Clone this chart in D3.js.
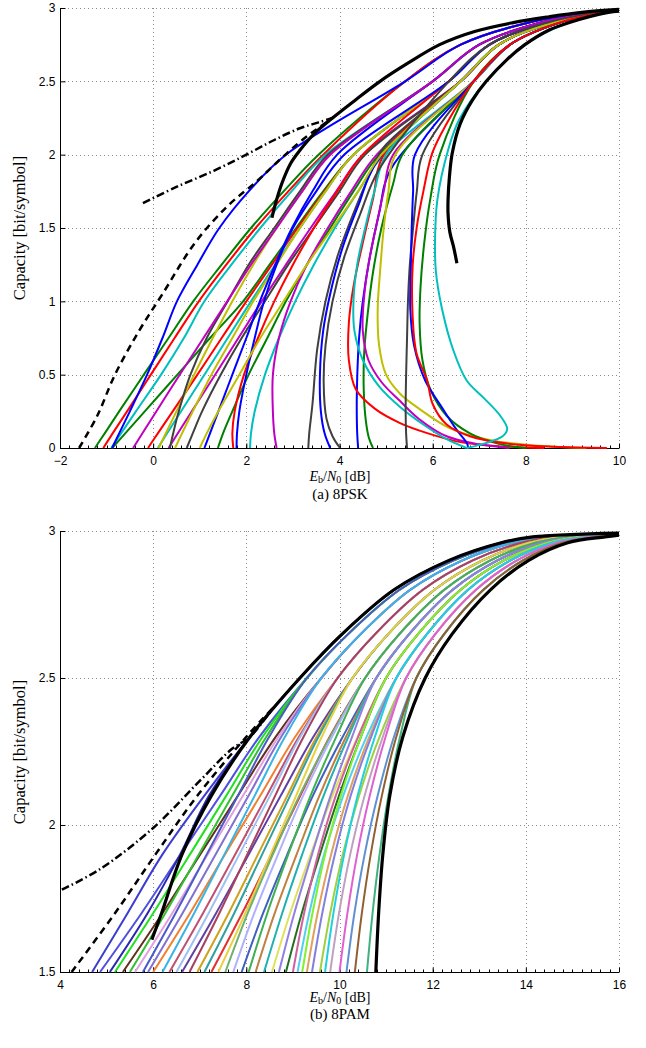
<!DOCTYPE html>
<html><head><meta charset="utf-8">
<script src="https://cdn.jsdelivr.net/npm/d3@7"></script>
<style>body{margin:0;background:#fff} svg{display:block}</style>
</head><body>
<svg id="c" width="646" height="1048"></svg>
<script>
// ================= DATA =================
// ---- (a) 8PSK ----
const pskXTicks = [-2,0,2,4,6,8,10];
const pskYTicks = [0,0.5,1,1.5,2,2.5,3];
const pskXLabels = ["\u22122","0","2","4","6","8","10"];
const pskYLabels = ["0","0.5","1","1.5","2","2.5","3"];
// upper bands: Eb/N0 at these capacities
const pskBandLevels = [2.5,2.75,2.9,2.97];
const pskBands = {
  blue:[5.41,6.6,8.05,9.38],
  mag:[6.0,7.0,8.3,9.47],
  gray:[6.35,7.22,8.45,9.54],
  yel:[6.6,7.42,8.58,9.6],
  red:[6.88,7.66,8.72,9.67],
  rb:[7.15,7.98,8.92,9.77]
};
const pskEnd = [10,2.99];
const pskLowLevels = [0,0.1,0.25,0.5,0.75,1,1.25,1.5,1.75,2.0];
const pskLow = [
  {col:"g", band:"blue", x:[-1.25,-1.04,-0.73,-0.2,0.33,0.86,1.47,2.1,2.8,3.55]},
  {col:"r", band:"blue", x:[-1.07,-0.87,-0.56,-0.05,0.46,0.98,1.57,2.2,2.9,3.65]},
  {col:"c", band:"mag",  x:[-0.9,-0.69,-0.37,0.17,0.66,1.1,1.68,2.3,2.97,3.7]},
  {col:"b", band:"blue", x:[-0.88,-0.73,-0.5,-0.13,0.2,0.51,0.95,1.42,2.05,2.85], front:1},
  {col:"g", band:"gray", x:[-0.88,-0.6,-0.18,0.52,1.22,1.93,2.5,3.07,3.65,4.3]},
  {col:"m", band:"mag",  x:[-0.43,-0.23,0.07,0.57,1.08,1.59,2.1,2.65,3.2,3.8], front:1},
  {col:"r", band:"gray", x:[-0.11,0.1,0.42,0.95,1.47,2.0,2.55,3.1,3.68,4.3]},
  {col:"c", band:"gray", x:[0.1,0.3,0.6,1.1,1.6,2.1,2.62,3.15,3.7,4.3]},
  {col:"y", band:"mag",  x:[0.12,0.27,0.5,0.88,1.28,1.7,2.15,2.65,3.2,3.8]},
  {col:"m", band:"yel",  x:[0.33,0.53,0.83,1.33,1.83,2.33,2.85,3.38,3.93,4.5]},
  {col:"k", band:"mag",  x:[0.36,0.43,0.55,0.8,1.15,1.6,2.05,2.6,3.15,3.75]},
  {col:"y", band:"gray", x:[0.47,0.62,0.85,1.25,1.7,2.15,2.65,3.15,3.7,4.3]},
  {col:"k", band:"yel",  x:[0.72,0.85,1.05,1.45,1.9,2.4,2.9,3.45,4.0,4.55]},
  {col:"y", band:"yel",  x:[1.0,1.15,1.4,1.85,2.3,2.8,3.3,3.85,4.4,4.9], front:1},
  {col:"b", band:"mag",  x:[1.1,1.22,1.4,1.7,2.0,2.29,2.62,2.98,3.42,3.95]},
  {col:"g", band:"yel",  x:[1.39,1.5,1.7,2.05,2.45,2.85,3.3,3.8,4.3,4.85]},
  {col:"r", band:"gray", x:[1.72,1.7,1.75,1.95,2.25,2.6,3.0,3.45,3.95,4.5]},
  {col:"b", band:"gray", x:[1.79,1.8,1.85,2.0,2.18,2.38,2.65,3.0,3.5,4.1]},
  {col:"c", band:"red",  x:[2.08,2.1,2.18,2.4,2.7,3.05,3.45,3.9,4.4,4.95]},
  {col:"m", band:"yel",  x:[2.65,2.6,2.57,2.57,2.7,2.95,3.3,3.75,4.25,4.8]}
];
// curves that bend back at low capacity: [Eb/N0, capacity] pairs
const pskBent = [
  {col:"k", band:"yel",  p:[[3.33,0],[3.35,0.1],[3.42,0.3],[3.52,0.67],[3.7,1.0],[3.95,1.3],[4.3,1.6],[4.7,1.9],[4.95,2.05]]},
  {col:"b", band:"yel",  p:[[3.8,0],[3.68,0.1],[3.6,0.25],[3.58,0.5],[3.65,0.8],[3.8,1.05],[4.05,1.35],[4.4,1.65],[4.8,1.95]]},
  {col:"k", band:"gray", p:[[4.01,0],[3.85,0.08],[3.72,0.2],[3.66,0.45],[3.7,0.7],[3.85,1.0],[4.1,1.3],[4.45,1.6],[4.85,1.9]], front:1},
  {col:"b", band:"red",  p:[[4.4,0],[4.38,0.1],[4.37,0.3],[4.38,0.48],[4.42,0.75],[4.5,1.0],[4.65,1.3],[4.85,1.6],[5.1,1.9]]},
  {col:"g", band:"red",  p:[[4.72,0],[4.63,0.07],[4.56,0.2],[4.52,0.4],[4.53,0.65],[4.6,0.9],[4.72,1.2],[4.9,1.5],[5.15,1.8],[5.35,2.0]]},
  {col:"r", band:"yel",  p:[[8.4,0],[7.5,0.01],[6.6,0.04],[5.9,0.1],[5.3,0.17],[4.75,0.27],[4.35,0.4],[4.2,0.6],[4.2,0.85],[4.3,1.1],[4.5,1.4],[4.72,1.7],[4.95,2.0]]},
  {col:"c", band:"yel",  p:[[6.73,0],[6.3,0.06],[5.8,0.16],[5.3,0.28],[4.85,0.42],[4.5,0.6],[4.32,0.8],[4.3,1.0],[4.38,1.25],[4.55,1.5],[4.75,1.75],[5.0,2.0]]},
  {col:"m", band:"red",  p:[[7.65,0],[7.0,0.025],[6.3,0.08],[5.7,0.2],[5.3,0.32],[4.9,0.45],[4.62,0.6],[4.5,0.8],[4.52,1.0],[4.62,1.25],[4.78,1.5],[4.95,1.75],[5.15,2.0]]},
  {col:"y", band:"red",  p:[[9.3,0],[8.3,0.015],[7.3,0.05],[6.4,0.13],[5.7,0.27],[5.3,0.37],[5.0,0.5],[4.85,0.7],[4.82,0.95],[4.87,1.2],[4.95,1.5],[5.05,1.75],[5.2,2.0]]},
  {col:"k", band:"red",  p:[[5.45,0],[5.43,0.1],[5.42,0.25],[5.43,0.5],[5.45,0.75],[5.47,1.0],[5.51,1.25],[5.58,1.5],[5.66,1.75],[5.78,2.0]]},
  {col:"g", band:"red",  p:[[8.0,0],[7.4,0.03],[6.8,0.1],[6.3,0.22],[5.95,0.4],[5.78,0.6],[5.72,0.85],[5.74,1.1],[5.82,1.4],[5.95,1.7],[6.15,2.0]]},
  {col:"b", band:"red",  p:[[6.76,0],[6.74,0.03],[6.5,0.13],[6.15,0.3],[5.84,0.46],[5.6,0.7],[5.52,0.95],[5.53,1.2],[5.55,1.5],[5.58,1.75],[5.62,2.0]]},
  {col:"r", band:"red",  p:[[9.74,0],[8.6,0.008],[7.6,0.03],[6.8,0.08],[6.3,0.16],[6.0,0.3],[5.88,0.46],[5.65,0.65],[5.57,0.9],[5.57,1.24],[5.66,1.51],[5.8,1.75],[5.99,2.01],[6.28,2.2]], front:1},
  {col:"c", band:"rb",   p:[[6.73,0],[7.1,0.03],[7.5,0.08],[7.6,0.13],[7.45,0.22],[7.1,0.34],[6.73,0.46],[6.44,0.67],[6.2,0.95],[6.07,1.2],[6.05,1.4],[6.1,1.69],[6.33,2.03],[6.57,2.24]], front:1}
];
const pskCM = [[2.55,1.57],[2.62,1.66],[2.77,1.81],[2.95,1.94],[3.15,2.03],[3.45,2.14],[3.85,2.25],[4.33,2.37],[4.87,2.5],[5.45,2.62],[6.15,2.75],[6.9,2.84],[7.73,2.9],[8.5,2.94],[9.2,2.97],[10,2.99]];
const pskRight = [[6.52,1.26],[6.45,1.37],[6.37,1.47],[6.33,1.6],[6.33,1.69],[6.36,1.85],[6.42,2.01],[6.59,2.21],[6.85,2.37],[7.15,2.5],[7.6,2.65],[7.98,2.75],[8.5,2.85],[8.92,2.9],[9.77,2.97],[10,2.978]];
const pskShannon = [[-1.59,0],[-1.2,0.22],[-0.82,0.5],[-0.3,0.8],[0.2,1.05],[0.9,1.4],[1.6,1.65],[2.23,1.82],[2.7,1.96],[3.2,2.1],[3.85,2.25]];
const pskDashDot = [[-0.22,1.67],[0.5,1.78],[1.3,1.89],[2.0,2.0],[2.6,2.1],[3.15,2.18],[3.55,2.22],[3.85,2.25]];

// ---- (b) 8PAM ----
const pamXTicks = [4,6,8,10,12,14,16];
const pamYTicks = [1.5,2,2.5,3];
const pamXLabels = ["4","6","8","10","12","14","16"];
const pamYLabels = ["1.5","2","2.5","3"];
const pamLowLevels = [1.5,1.7,1.9,2.1,2.3];
const pamHighLevels = [2.5,2.65,2.8,2.9,2.96,2.98];
const pamEnd = [16,2.99];
const pamClusters = [
  [9.15,10.06,11.17,12.35,13.47,14.15],
  [9.3,10.19,11.29,12.45,13.55,14.23],
  [9.61,10.46,11.52,12.64,13.71,14.4],
  [9.96,10.77,11.79,12.86,13.9,14.59],
  [10.28,11.05,12.04,13.07,14.07,14.76],
  [10.55,11.29,12.25,13.24,14.21,14.9],
  [10.79,11.5,12.43,13.39,14.34,15.03],
  [11.0,11.69,12.6,13.53,14.46,15.15],
  [11.22,11.88,12.76,13.67,14.57,15.27],
  [11.43,12.06,12.93,13.81,14.69,15.39],
  [11.65,12.25,13.09,13.94,14.8,15.5]
];
const pamCurves = [
  {cl:0, col:"#3c3cd0", x:[4.69,5.45,6.2,7.1,8.08]},
  {cl:1, col:"#5050e0", x:[4.86,5.75,6.59,7.44,8.28]},
  {cl:0, col:"#2828b0", x:[5.07,5.88,6.58,7.2,8.08]},
  {cl:1, col:"#20e020", x:[5.18,6.0,6.79,7.57,8.35]},
  {cl:2, col:"#603020", x:[5.35,6.2,7.01,7.82,8.63]},
  {cl:1, col:"#30c030", x:[5.5,6.26,6.98,7.7,8.43]},
  {cl:2, col:"#e0a0e0", x:[5.61,6.41,7.17,7.93,8.69]},
  {cl:1, col:"#4a5ac8", x:[5.78,6.48,7.15,7.82,8.49]},
  {cl:2, col:"#8070d0", x:[5.89,6.63,7.34,8.05,8.75]},
  {cl:3, col:"#f08030", x:[6.0,6.79,7.54,8.3,9.05]},
  {cl:2, col:"#3ab4e6", x:[6.2,6.88,7.53,8.18,8.83]},
  {cl:3, col:"#c05070", x:[6.35,7.07,7.76,8.44,9.13]},
  {cl:3, col:"#a0c0f0", x:[6.5,7.19,7.85,8.51,9.16]},
  {cl:4, col:"#6040a0", x:[6.62,7.35,8.05,8.74,9.44]},
  {cl:3, col:"#a84060", x:[6.78,7.42,8.02,8.62,9.23]},
  {cl:4, col:"#d0a020", x:[6.95,7.62,8.25,8.88,9.51]},
  {cl:4, col:"#30a0a0", x:[7.1,7.74,8.34,8.94,9.55]},
  {cl:5, col:"#e03030", x:[7.25,7.91,8.54,9.16,9.79]},
  {cl:4, col:"#e8d040", x:[7.4,7.98,8.52,9.07,9.62]},
  {cl:5, col:"#70b070", x:[7.55,8.03,8.57,9.14,9.8]},
  {cl:5, col:"#b0b0ff", x:[7.72,8.17,8.68,9.22,9.84]},
  {cl:6, col:"#4060c0", x:[7.9,8.36,8.88,9.43,10.07]},
  {cl:5, col:"#40b050", x:[8.05,8.45,8.9,9.38,9.93]},
  {cl:6, col:"#c08040", x:[8.2,8.61,9.08,9.57,10.14]},
  {cl:6, col:"#20b0b0", x:[8.38,8.77,9.2,9.66,10.19]},
  {cl:7, col:"#e0e060", x:[8.55,8.94,9.38,9.85,10.39]},
  {cl:6, col:"#9080e0", x:[8.7,9.03,9.41,9.81,10.27]},
  {cl:7, col:"#207020", x:[8.85,9.19,9.58,9.99,10.46]},
  {cl:7, col:"#d060a0", x:[9.0,9.24,9.54,9.92,10.4]},
  {cl:8, col:"#50d0f0", x:[9.1,9.35,9.67,10.08,10.58]},
  {cl:7, col:"#80f030", x:[9.2,9.42,9.69,10.03,10.46]},
  {cl:8, col:"#e0a060", x:[9.3,9.53,9.82,10.18,10.64]},
  {cl:8, col:"#8080e0", x:[9.41,9.63,9.9,10.24,10.68]},
  {cl:9, col:"#a0d040", x:[9.58,9.8,10.07,10.42,10.86]},
  {cl:8, col:"#20d0e0", x:[9.69,9.87,10.1,10.39,10.76]},
  {cl:9, col:"#c0a0c0", x:[9.8,9.99,10.23,10.54,10.93]},
  {cl:9, col:"#e060d0", x:[10.0,10.17,10.38,10.65,10.99]},
  {cl:10, col:"#6090d0", x:[10.15,10.32,10.54,10.82,11.17]},
  {cl:10, col:"#40b080", x:[10.59,10.71,10.86,11.05,11.3]},
  {cl:10, col:"#906030", x:[10.33,10.48,10.67,10.91,11.22]}
];
const pamBlackLeftLow = [[5.97,1.61],[6.18,1.7],[6.62,1.9],[7.25,2.1],[8.08,2.3]];
const pamBlackRightLow = [10.78,10.84,10.93,11.08,11.36];
const pamBlackRightHigh = [11.84,12.42,13.24,14.06,14.9,15.7];
const pamShannon = [[4.25,1.5],[5.18,1.7],[6.05,1.9],[6.95,2.1],[8.0,2.3],[8.58,2.4]];
const pamDashDot = [[4.04,1.78],[4.86,1.85],[6.0,1.99],[7.0,2.15],[7.7,2.26],[8.08,2.3],[8.58,2.4]];

const matlab = {b:"#0000ff", g:"#008000", r:"#ff0000", c:"#00bfbf", m:"#bf00bf", y:"#bfbf00", k:"#404040"};

// ================= DRAW =================
const svg = d3.select("#c");
svg.append("rect").attr("width",646).attr("height",1048).attr("fill","#fff");
const L = 60, R = 619;
const TICKFONT = "'Liberation Sans', Arial, sans-serif";
const SERIF = "'Liberation Serif', 'Times New Roman', serif";

function panel(opt){
  const x = d3.scaleLinear().domain(opt.xd).range([L,R]);
  const y = d3.scaleLinear().domain(opt.yd).range([opt.bottom,opt.top]);
  const g = svg.append("g");
  const id = "clip"+opt.name;
  svg.append("defs").append("clipPath").attr("id",id).append("rect")
    .attr("x",L).attr("y",opt.top-2).attr("width",R-L+2).attr("height",opt.bottom-opt.top+3);
  const grid = g.append("g").attr("stroke","#8a8a8a").attr("stroke-width",1).attr("stroke-dasharray","1,3");
  opt.xt.forEach(v=>{ if(v!==opt.xd[0]) grid.append("line").attr("x1",Math.round(x(v))+0.5).attr("x2",Math.round(x(v))+0.5).attr("y1",opt.top).attr("y2",opt.bottom); });
  opt.yt.forEach(v=>{ if(v!==opt.yd[0]) grid.append("line").attr("x1",L).attr("x2",R).attr("y1",Math.round(y(v))+0.5).attr("y2",Math.round(y(v))+0.5); });
  const xa = g.append("g").attr("transform",`translate(0,${opt.bottom+0.5})`)
    .call(d3.axisBottom(x).tickValues(opt.xt).tickSize(-5).tickFormat((d,i)=>opt.xl[i]).tickPadding(8));
  const ya = g.append("g").attr("transform",`translate(${L+0.5},0)`)
    .call(d3.axisLeft(y).tickValues(opt.yt).tickSize(-5).tickFormat((d,i)=>opt.yl[i]).tickPadding(5));
  [xa,ya].forEach(a=>{
    a.select(".domain").attr("stroke","#000").attr("stroke-width",1);
    a.selectAll(".tick line").attr("stroke","#000");
    a.selectAll("text").attr("font-family",TICKFONT).attr("font-size",12).attr("fill","#000");
  });
  xa.select(".domain").attr("d",`M${L},0H${R}`);
  ya.select(".domain").attr("d",`M0,${opt.top}V${opt.bottom}`);
  const minor = d3.range(opt.xd[0], opt.xd[1]+1e-9, opt.minor);
  g.append("g").selectAll("line").data(minor).join("line")
    .attr("x1",d=>Math.round(x(d))+0.5).attr("x2",d=>Math.round(x(d))+0.5).attr("y1",opt.bottom).attr("y2",opt.bottom-2.5)
    .attr("stroke","#000").attr("stroke-width",1);
  const plot = svg.append("g").attr("clip-path",`url(#${id})`);
  return {x,y,plot};
}

const line = (x,y)=>d3.line().x(d=>x(d[0])).y(d=>y(d[1])).curve(d3.curveCatmullRom.alpha(0.5));

// ---------- PSK ----------
{
  const P = panel({name:"psk", xd:[-2,10], yd:[0,3], top:8, bottom:448, xt:pskXTicks, yt:pskYTicks, xl:pskXLabels, yl:pskYLabels, minor:0.2});
  const ln = line(P.x,P.y);
  const withBand = (pts, b)=>{
    const last = pts[pts.length-1][1];
    const up = pskBandLevels.map((lv,i)=>[pskBands[b][i],lv]).filter(d=>d[1]>last+0.1);
    return pts.concat(up,[pskEnd]);
  };
  let curves = [];
  pskLow.forEach(c=>curves.push({col:c.col, front:c.front||0, pts:withBand(pskLowLevels.map((lv,i)=>[c.x[i],lv]), c.band)}));
  pskBent.forEach(c=>curves.push({col:c.col, front:c.front||0, pts:withBand(c.p, c.band)}));
  curves = curves.filter(c=>!c.front).concat(curves.filter(c=>c.front));
  P.plot.selectAll("path.cv").data(curves).join("path").attr("class","cv")
    .attr("d",d=>ln(d.pts)).attr("fill","none").attr("stroke",d=>matlab[d.col]).attr("stroke-width",2);
  P.plot.append("path").attr("d",ln(pskShannon)).attr("fill","none").attr("stroke","#000").attr("stroke-width",2.5).attr("stroke-dasharray","7,5");
  P.plot.append("path").attr("d",ln(pskDashDot)).attr("fill","none").attr("stroke","#000").attr("stroke-width",2.5).attr("stroke-dasharray","8,3,1.5,3");
  P.plot.append("path").attr("d",ln(pskCM)).attr("fill","none").attr("stroke","#000").attr("stroke-width",3.2);
  P.plot.append("path").attr("d",ln(pskRight)).attr("fill","none").attr("stroke","#000").attr("stroke-width",3.2);
}

// ---------- PAM ----------
{
  const P = panel({name:"pam", xd:[4,16], yd:[1.5,3], top:531, bottom:972, xt:pamXTicks, yt:pamYTicks, xl:pamXLabels, yl:pamYLabels, minor:0.2});
  const ln = line(P.x,P.y);
  const high = cl=>pamHighLevels.map((lv,i)=>[pamClusters[cl][i],lv]);
  const curves = pamCurves.map(c=>({col:c.col, pts:pamLowLevels.map((lv,i)=>[c.x[i],lv]).concat(high(c.cl),[pamEnd])}));
  P.plot.selectAll("path.cv").data(curves).join("path").attr("class","cv")
    .attr("d",d=>ln(d.pts)).attr("fill","none").attr("stroke",d=>d.col).attr("stroke-width",2);
  P.plot.append("path").attr("d",ln(pamShannon)).attr("fill","none").attr("stroke","#000").attr("stroke-width",2.5).attr("stroke-dasharray","7,5");
  P.plot.append("path").attr("d",ln(pamDashDot)).attr("fill","none").attr("stroke","#000").attr("stroke-width",2.5).attr("stroke-dasharray","8,3,1.5,3");
  P.plot.append("path").attr("d",ln(pamBlackLeftLow.concat(high(0),[[16,2.993]]))).attr("fill","none").attr("stroke","#000").attr("stroke-width",3.2);
  const rb = pamLowLevels.map((lv,i)=>[pamBlackRightLow[i],lv]).concat(pamHighLevels.map((lv,i)=>[pamBlackRightHigh[i],lv]),[[16,2.986]]);
  P.plot.append("path").attr("d",ln(rb)).attr("fill","none").attr("stroke","#000").attr("stroke-width",3.2);
}

// ---------- labels ----------
function labels(cy, xlY, capY, cap){
  svg.append("text").attr("transform",`translate(25,${cy}) rotate(-90)`).attr("text-anchor","middle")
    .attr("font-family",SERIF).attr("font-size",16.5).text("Capacity [bit/symbol]");
  const t = svg.append("text").attr("x",340).attr("y",xlY).attr("text-anchor","middle")
    .attr("font-family",SERIF).attr("font-size",14);
  t.append("tspan").attr("font-style","italic").text("E");
  t.append("tspan").attr("font-size",10).attr("dy",2).text("b");
  t.append("tspan").attr("dy",-2).text("/");
  t.append("tspan").attr("font-style","italic").text("N");
  t.append("tspan").attr("font-size",10).attr("dy",2).text("0");
  t.append("tspan").attr("dy",-2).text(" [dB]");
  svg.append("text").attr("x",340).attr("y",capY).attr("text-anchor","middle")
    .attr("font-family",SERIF).attr("font-size",15).text(cap);
}
labels(228, 481, 499, "(a) 8PSK");
labels(752, 1002, 1019, "(b) 8PAM");
</script>
</body></html>
